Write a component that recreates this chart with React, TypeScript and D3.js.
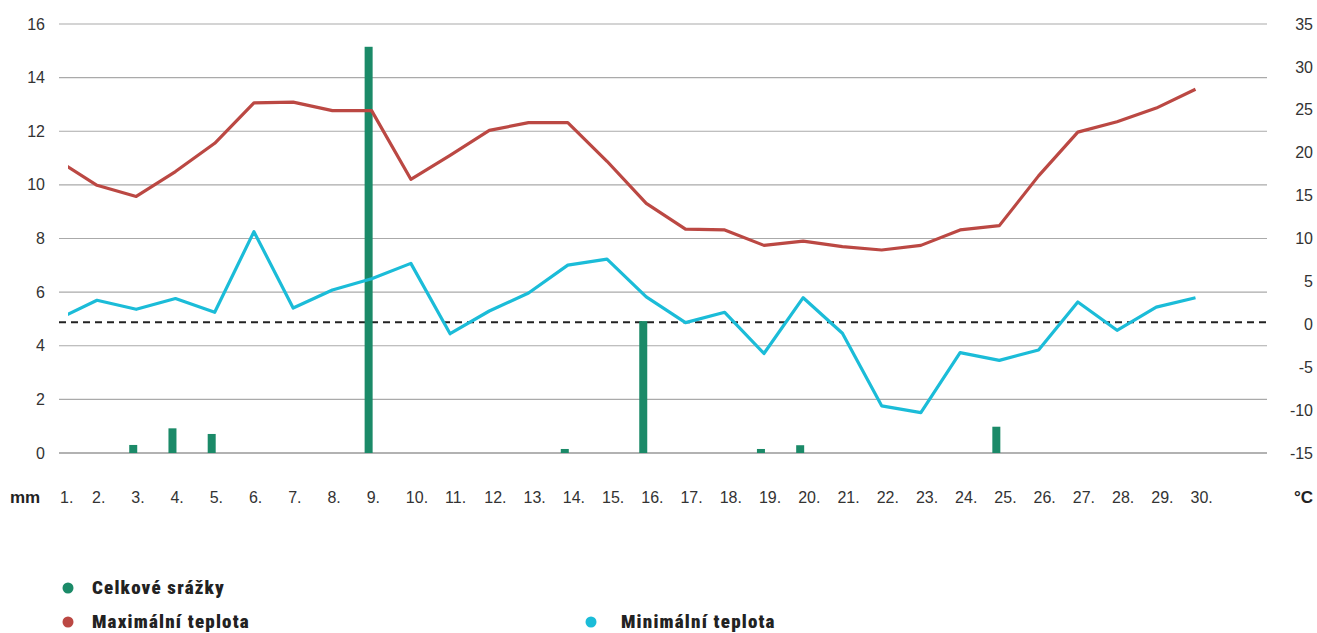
import React from 'react';
import * as d3 from 'd3';

// dny v měsíci
const days: number[] = d3.range(1, 31);

// srážky v mm (jen dny s nenulovou hodnotou)
const precipDays: number[] = [3, 4, 5, 9, 14, 16, 19, 20, 25];
const precipValues: number[] = [0.3, 0.92, 0.71, 15.15, 0.15, 4.92, 0.15, 0.29, 0.98];

// teploty ve °C
const maxTemp: number[] = [
  19.1, 16.2, 14.9, 17.8, 21.1, 25.8, 25.9, 24.9, 24.9, 16.9,
  19.7, 22.6, 23.5, 23.5, 19.0, 14.1, 11.1, 11.0, 9.2, 9.7,
  9.05, 8.66, 9.2, 11.0, 11.5, 17.3, 22.4, 23.6, 25.2, 27.4,
];
const minTemp: number[] = [
  0.6, 2.8, 1.75, 3.0, 1.4, 10.8, 1.9, 4.0, 5.3, 7.1,
  -1.1, 1.55, 3.65, 6.9, 7.6, 3.2, 0.2, 1.4, -3.4, 3.1,
  -1.05, -9.5, -10.3, -3.3, -4.2, -3.0, 2.6, -0.7, 2.0, 3.1,
];

const leftTicks: number[] = [0, 2, 4, 6, 8, 10, 12, 14, 16];
const rightTicks: number[] = [-15, -10, -5, 0, 5, 10, 15, 20, 25, 30, 35];

const legendItems = [
  { label: 'Celkové srážky', color: '#1b8a68', col: 0, row: 0 },
  { label: 'Maximální teplota', color: '#bb4843', col: 0, row: 1 },
  { label: 'Minimální teplota', color: '#1bbcd8', col: 1, row: 1 },
];

const W = 1317;
const H = 633;
const plotLeft = 59;
const plotRight = 1267;
const clipLeft = 68;
const axisFont = '"Liberation Sans", Arial, sans-serif';
const legendFont = '"Roboto Condensed", Roboto, "Noto Sans", sans-serif';

export default function App() {
  const x = d3.scaleLinear().domain([2, 30]).range([97, 1195.5]);
  const yMm = d3.scaleLinear().domain([0, 16]).range([453, 24]);
  const yT = d3.scaleLinear().domain([-15, 35]).range([453, 24]);

  const line = d3
    .line<number>()
    .x((_, i) => x(days[i]))
    .y((d) => yT(d));

  return (
    <div style={{ position: 'absolute', left: 0, top: 0 }}>
      <svg width={W} height={H} style={{ display: 'block', background: '#fff' }}>
        <defs>
          <clipPath id="plot-clip">
            <rect x={clipLeft} y={0} width={plotRight - clipLeft} height={H} />
          </clipPath>
        </defs>

        {/* mřížka a levá osa */}
        {leftTicks.map((t) => (
          <g key={'l' + t}>
            <line
              x1={plotLeft}
              x2={plotRight}
              y1={yMm(t)}
              y2={yMm(t)}
              stroke={t === 0 ? '#999' : '#aaa'}
              strokeWidth={t === 0 ? 1.6 : 1.2}
            />
            <text
              x={45}
              y={yMm(t)}
              dy="0.35em"
              textAnchor="end"
              fontFamily={axisFont}
              fontSize={16}
              fill="#333"
            >
              {t}
            </text>
          </g>
        ))}

        {/* pravá osa */}
        {rightTicks.map((t) => (
          <text
            key={'r' + t}
            x={1313}
            y={yT(t)}
            dy="0.35em"
            textAnchor="end"
            fontFamily={axisFont}
            fontSize={16}
            fill="#333"
          >
            {t}
          </text>
        ))}

        {/* nulová čára teploty */}
        <line
          x1={plotLeft}
          x2={plotRight}
          y1={yT(0) - 2}
          y2={yT(0) - 2}
          stroke="#222"
          strokeWidth={2}
          strokeDasharray="7 5"
        />

        {/* srážky */}
        {precipDays.map((d, i) => (
          <rect
            key={'b' + d}
            x={x(d) - 7}
            y={yMm(precipValues[i])}
            width={8}
            height={yMm(0) - yMm(precipValues[i])}
            fill="#1b8a68"
          />
        ))}

        <g clipPath="url(#plot-clip)">
          <path d={line(maxTemp) || ''} fill="none" stroke="#bb4843" strokeWidth={3.2} strokeLinejoin="round" />
          <path d={line(minTemp) || ''} fill="none" stroke="#1bbcd8" strokeWidth={3.2} strokeLinejoin="round" />
        </g>

        {/* popisky dnů */}
        <text x={10} y={503} fontFamily={axisFont} fontSize={17} fontWeight="bold" fill="#222">
          mm
        </text>
        {days.map((d) => (
          <text
            key={'d' + d}
            x={Math.max(x(d) - 5, 60)}
            y={503}
            fontFamily={axisFont}
            fontSize={16}
            fill="#333"
          >
            {d}.
          </text>
        ))}
        <text x={1313} y={503} textAnchor="end" fontFamily={axisFont} fontSize={17} fontWeight="bold" fill="#222">
          °C
        </text>

        {/* legenda */}
        {legendItems.map((it) => {
          const lx = it.col === 0 ? 68 : 591;
          const ly = it.row === 0 ? 588 : 622;
          const tx = it.col === 0 ? lx + 24 : lx + 30;
          return (
            <g key={it.label}>
              <circle cx={lx} cy={ly} r={5.5} fill={it.color} />
              <text
                x={tx}
                y={ly + 6}
                fontFamily={legendFont}
                fontSize={19}
                fontWeight={900}
                letterSpacing={1.2}
                fill="#222"
              >
                {it.label}
              </text>
            </g>
          );
        })}
      </svg>
    </div>
  );
}
